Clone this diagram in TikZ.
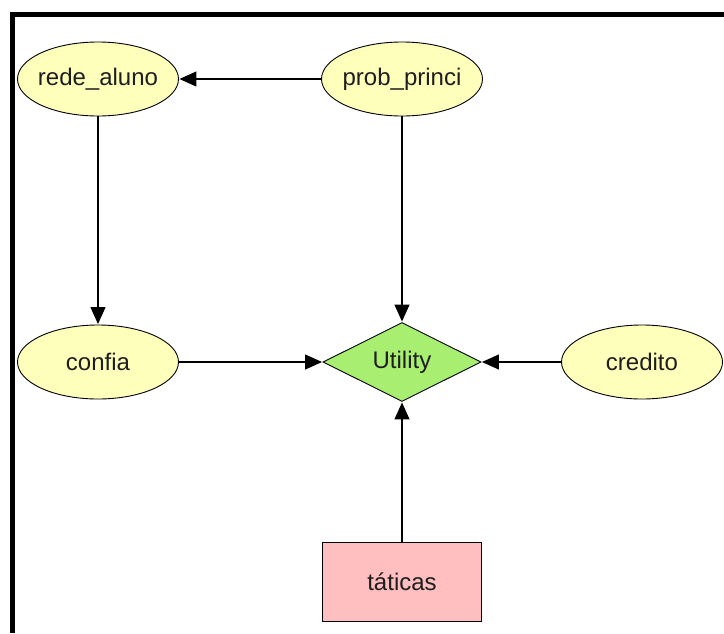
\documentclass[tikz,border=0pt]{standalone}
\usepackage{fontspec}
\setmainfont{Liberation Sans}
\usetikzlibrary{shapes.geometric,arrows.meta}

\definecolor{chancefill}{RGB}{255,255,188}
\definecolor{utilfill}{RGB}{168,238,112}
\definecolor{decfill}{RGB}{255,190,192}
\definecolor{labelink}{RGB}{30,30,30}

\tikzset{
  labelfont/.style={font=\fontsize{24}{28}\selectfont, text=labelink},
  % the shape keeps a fixed size; its caption is a centred label on top
  caption/.style={label={[labelfont, inner sep=0pt]center:#1}},
  chance/.style={ellipse, draw=black, line width=0.9pt, fill=chancefill,
    minimum width=161pt, minimum height=74pt, inner sep=0pt},
  utilnode/.style={diamond, draw=black, line width=0.9pt, fill=utilfill,
    shape aspect=2, minimum width=158pt, minimum height=79pt, inner sep=0pt},
  decnode/.style={rectangle, draw=black, line width=0.9pt, fill=decfill,
    minimum width=159pt, minimum height=79pt, inner sep=0pt},
  link/.style={draw=black, line width=1.2pt,
    -{Triangle[length=17pt,width=15pt]}, shorten >=0.5pt},
  frame/.style={draw=black, line width=5pt}
}

\begin{document}
\begin{tikzpicture}[x=1pt, y=-1pt]
  \useasboundingbox (0,0) rectangle (724,633);

  % frame along the top and left edges
  \draw[frame] (12.5,633) -- (12.5,14.5) -- (724,14.5);

  % chance nodes
  \node[chance, caption={rede\_aluno}]  (rede)   at (98,79)   {};
  \node[chance, caption={prob\_princi}] (prob)   at (402,79)  {};
  \node[chance, caption={confia}]       (confia) at (98,362)  {};
  \node[chance, caption={credito}]      (cred)   at (642,362) {};

  % utility node
  \node[utilnode, caption={Utility}] (util) at (402,362) {};

  % decision node
  \node[decnode, caption={táticas}] (tat) at (402,582) {};

  % arcs
  \draw[link] (prob) -- (rede);
  \draw[link] (rede) -- (confia);
  \draw[link] (prob) -- (util);
  \draw[link] (confia) -- (util);
  \draw[link] (cred) -- (util);
  \draw[link] (tat) -- (util);
\end{tikzpicture}
\end{document}
